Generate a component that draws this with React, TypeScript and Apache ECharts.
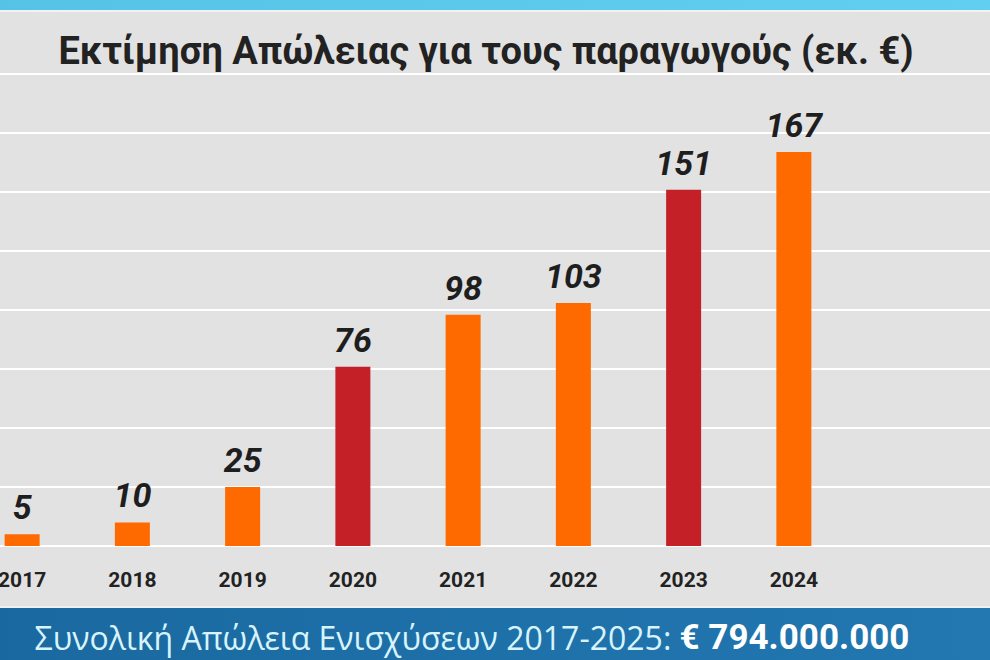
import React, { useEffect, useRef } from "react";
import * as echarts from "echarts";

const years = ["2017", "2018", "2019", "2020", "2021", "2022", "2023", "2024"];
const losses = [5, 10, 25, 76, 98, 103, 151, 167];
const redYears = ["2020", "2023"];
const titleText = "Εκτίμηση Απώλειας για τους παραγωγούς (εκ. €)";
const footerLabel = "Συνολική Απώλεια Ενισχύσεων 2017-2025: ";
const footerValue = "€ 794.000.000";

const ORANGE = "#ff6a00";
const RED = "#c42028";
const SHIFT = 33;

export default function App() {
  const ref = useRef<HTMLDivElement>(null);
  useEffect(() => {
    document.body.style.margin = "0";
    const chart = echarts.init(ref.current!, null, { renderer: "svg" });
    chart.setOption({
      animation: false,
      backgroundColor: "#e2e2e2",
      title: {
        text: titleText,
        left: 481 + SHIFT,
        textAlign: "center",
        top: 27,
        textStyle: { fontFamily: "Roboto", fontWeight: "bold", fontSize: 38, color: "#222" },
      },
      grid: [
        { left: 0, width: 882, top: 74, bottom: 114, containLabel: false },
        { left: SHIFT, width: 990, top: 74, bottom: 114, containLabel: false },
      ],
      xAxis: [
        {
          type: "category",
          gridIndex: 0,
          data: years,
          axisLine: { show: false },
          axisTick: { show: false },
          axisLabel: {
            margin: 23,
            fontFamily: "Roboto",
            fontWeight: "bold",
            fontSize: 21,
            color: "#222",
          },
        },
        { type: "value", gridIndex: 1, show: false, min: 0, max: 1 },
      ],
      yAxis: [
        { type: "value", gridIndex: 0, min: 0, max: 200, interval: 25, show: false, splitLine: { show: false } },
        {
          type: "value",
          gridIndex: 1,
          min: 0,
          max: 200,
          interval: 25,
          axisLine: { show: false },
          axisTick: { show: false },
          axisLabel: { show: false },
          splitLine: { show: true, lineStyle: { color: "#ffffff", width: 2 } },
        },
      ],
      series: [
        {
          type: "bar",
          xAxisIndex: 0,
          yAxisIndex: 0,
          barWidth: 35,
          data: losses.map((v, i) => ({
            value: v,
            itemStyle: { color: redYears.includes(years[i]) ? RED : ORANGE },
          })),
          label: {
            show: true,
            position: "top",
            distance: 10,
            fontFamily: "Roboto",
            fontStyle: "italic",
            fontWeight: "bold",
            fontSize: 34,
            color: "#1e1e1e",
          },
        },
      ],
      graphic: [
        {
          type: "rect",
          shape: { x: 0, y: 0, width: 1100, height: 10 },
          style: {
            fill: new echarts.graphic.LinearGradient(0, 0, 1, 0, [
              { offset: 0, color: "#56c3e6" },
              { offset: 1, color: "#62d0f0" },
            ]),
          },
        },
        {
          type: "rect",
          shape: { x: 0, y: 10, width: 1100, height: 2 },
          style: { fill: "#f2f2f2" },
        },
        {
          type: "rect",
          shape: { x: 0, y: 606, width: 1100, height: 2 },
          style: { fill: "#f0f0f0" },
        },
        {
          type: "rect",
          shape: { x: 0, y: 608, width: 1100, height: 52 },
          style: {
            fill: new echarts.graphic.LinearGradient(0, 0, 1, 0, [
              { offset: 0, color: "#1a68a0" },
              { offset: 1, color: "#2379b2" },
            ]),
          },
        },
        {
          type: "text",
          x: 472 + SHIFT,
          y: 637,
          style: {
            text: "{a|" + footerLabel + "}{b|" + footerValue + "}",
            align: "center",
            verticalAlign: "middle",
            fill: "#d8f4fb",
            rich: {
              a: { fontFamily: "Open Sans", fontSize: 32, fill: "#d8f4fb", color: "#d8f4fb" },
              b: { fontFamily: "Roboto", fontWeight: "bold", fontSize: 35, fill: "#ffffff", color: "#ffffff" },
            },
          },
        },
      ],
    });
    return () => chart.dispose();
  }, []);
  return (
    <div style={{ width: 990, height: 660, overflow: "hidden", position: "relative" }}>
      <div ref={ref} style={{ position: "absolute", left: -SHIFT, top: 0, width: 990 + SHIFT, height: 660 }} />
    </div>
  );
}
